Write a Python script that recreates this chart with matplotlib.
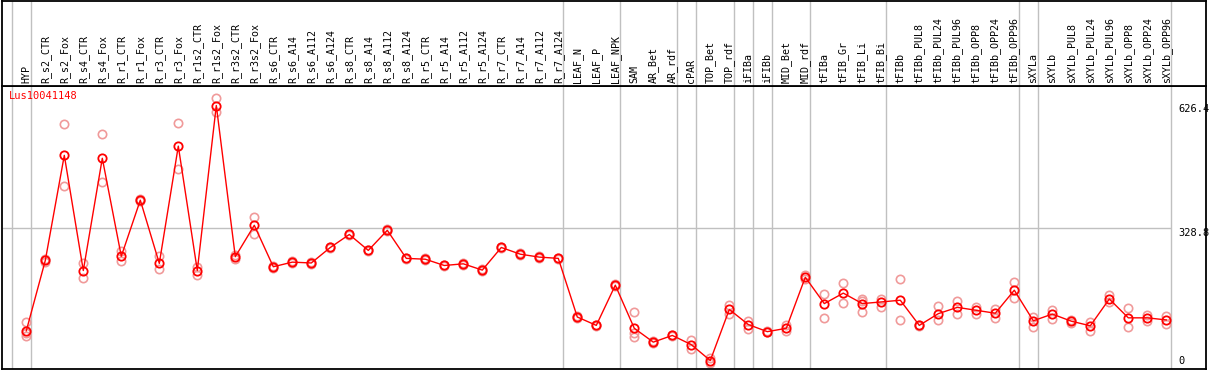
import matplotlib
matplotlib.use('Agg')
import matplotlib.pyplot as plt
import numpy as np

plt.rcParams['font.family'] = ['DejaVu Sans Mono']

samples = ['HYP', 'R_s2_CTR', 'R_s2_Fox', 'R_s4_CTR', 'R_s4_Fox', 'R_r1_CTR', 'R_r1_Fox',
           'R_r3_CTR', 'R_r3_Fox', 'R_r1s2_CTR', 'R_r1s2_Fox', 'R_r3s2_CTR', 'R_r3s2_Fox',
           'R_s6_CTR', 'R_s6_A14', 'R_s6_A112', 'R_s6_A124', 'R_s8_CTR', 'R_s8_A14',
           'R_s8_A112', 'R_s8_A124', 'R_r5_CTR', 'R_r5_A14', 'R_r5_A112', 'R_r5_A124',
           'R_r7_CTR', 'R_r7_A14', 'R_r7_A112', 'R_r7_A124', 'LEAF_N', 'LEAF_P', 'LEAF_NPK',
           'SAM', 'AR_Bet', 'AR_rdf', 'cPAR', 'TOP_Bet', 'TOP_rdf', 'iFIBa', 'iFIBb',
           'MID_Bet', 'MID_rdf', 'tFIBa', 'tFIB_Gr', 'tFIB_Li', 'tFIB_Bi', 'tFIBb',
           'tFIBb_PUL8', 'tFIBb_PUL24', 'tFIBb_PUL96', 'tFIBb_OPP8', 'tFIBb_OPP24',
           'tFIBb_OPP96', 'sXYLa', 'sXYLb', 'sXYLb_PUL8', 'sXYLb_PUL24', 'sXYLb_PUL96',
           'sXYLb_OPP8', 'sXYLb_OPP24', 'sXYLb_OPP96']

# mean expression
expr = [84, 252, 503, 228, 496, 262, 396, 245, 525, 228, 622, 261, 336, 237, 248, 246,
        283, 314, 276, 324, 257, 255, 240, 244, 229, 283, 267, 260, 257, 117, 97, 193,
        90, 57, 73, 51, 13, 135, 99, 82, 90, 212, 149, 174, 149, 153, 157, 97, 125, 140,
        133, 126, 181, 108, 124, 107, 96, 160, 115, 115, 110]

# replicates
rep_a = [104, 255, 578, 245, 553, 275, 398, 262, 580, 237, 639, 266, 355, 239, 250, 248,
         285, 316, 278, 326, 259, 257, 242, 246, 231, 285, 269, 262, 259, 119, 99, 195,
         128, 60, 75, 61, 20, 145, 107, 84, 99, 217, 171, 198, 161, 161, 208, 99, 143, 155,
         140, 137, 200, 118, 134, 111, 106, 169, 139, 122, 119]
rep_b = [72, 249, 429, 209, 439, 251, 394, 231, 471, 218, 606, 256, 316, 235, 246, 244,
         281, 312, 274, 322, 255, 253, 238, 242, 227, 281, 265, 258, 255, 115, 95, 191,
         69, 54, 71, 41, 6, 124, 88, 80, 84, 208, 114, 150, 128, 140, 109, 95, 109, 123,
         125, 115, 162, 94, 112, 102, 84, 153, 92, 107, 100]
extra_reps = {0: 79, 32: 78, 44: 156}

group_ends = [-1, 0, 28, 31, 34, 35, 37, 38, 39, 41, 45, 52, 53, 60]
ticks = [626.4, 328.8, 0]

W, H = 1209, 370
def box(x0, y0, x1, y1):
    return [x0 / W, 1 - y1 / H, (x1 - x0) / W, (y1 - y0) / H]

step, first = 19, 26.3
scale, zero = 0.4188, 366
left, right = 1.5, 1205.5
xlim = ((left - first) / step, (right - first) / step)

fig = plt.figure(figsize=(W / 100, H / 100), dpi=100)
ax = fig.add_axes(box(left, 86, right, 369))
head = fig.add_axes(box(left, 1, right, 86))

ax.set_xlim(xlim)
ax.set_ylim((zero - 369) / scale, (zero - 86) / scale)
head.set_xlim(xlim)
head.set_ylim(86, 1)

for a in (ax, head):
    a.set_xticks([])
    a.set_yticks([])
    for s in a.spines.values():
        s.set_linewidth(1.3)
        s.set_color('black')
    for g in group_ends:
        a.axvline(g + 4.4 / step, color='#c0c0c0', lw=1, zorder=0)

x = np.arange(len(samples))
ax.hlines(328.8, xlim[0], 60 + 4.4 / step, color='#c0c0c0', lw=1, zorder=0)

faint = dict(ls='none', marker='o', mfc='none', mec='#f09a9a', ms=6, mew=1.2)
ax.plot(x, rep_a, **faint)
ax.plot(x, rep_b, **faint)
ax.plot(list(extra_reps.keys()), list(extra_reps.values()), **faint)
ax.plot(x, expr, '-o', color='red', mfc='none', ms=6, mew=1.3, lw=1)

for i, name in enumerate(samples):
    head.text(i, 83, name, rotation=90, ha='center', va='bottom', fontsize=7.2)

fig.text(9 / W, 1 - 91 / H, 'Lus10041148', color='red', va='top', fontsize=7.5)

tx = (1178 - left) / (right - left)
for t in ticks:
    va = 'bottom' if t == 0 else 'top'
    ax.text(tx, t, f'{t:g}', transform=ax.get_yaxis_transform(), ha='left', va=va, fontsize=7.5)

fig.savefig('out.png', dpi=100)
